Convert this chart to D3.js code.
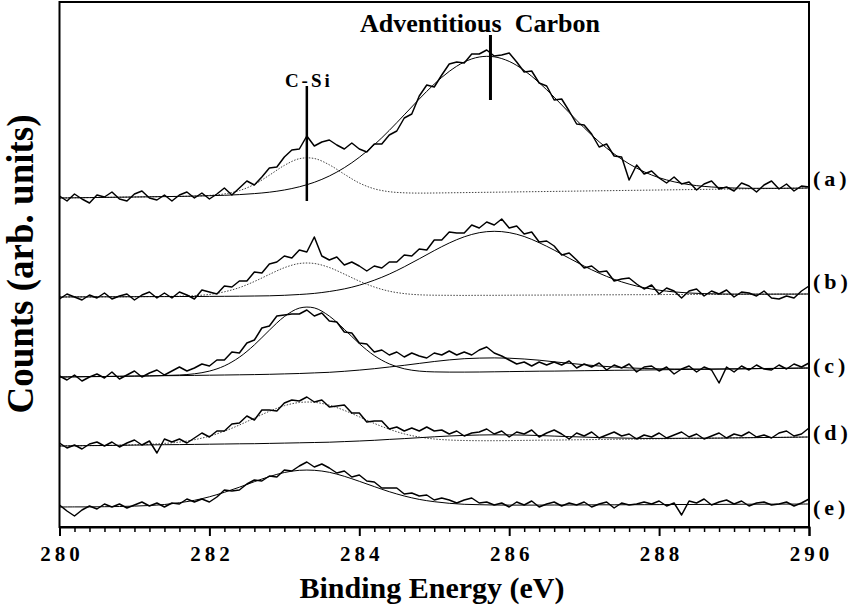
<!DOCTYPE html>
<html><head><meta charset="utf-8">
<script src="https://cdn.jsdelivr.net/npm/d3@7"></script>
<style>body{margin:0;background:#fff} svg{display:block}</style>
</head><body><svg id="chart" width="856" height="607"></svg>
<script>
// ---- data (counts in arbitrary units, each spectrum stacked by an offset) ----
const energyStart = 280, dataStep = 0.1, fitStep = 0.2;
const spectrumLabels = ["(a)", "(b)", "(c)", "(d)", "(e)"];
const stackOffsets = [329, 230, 150, 81, 20];
const xTickValues = [280, 282, 284, 286, 288, 290];

const spectrumA = [2,-3,4,-1,-5,3,1,6,-1,-3, 4,7,0,-2,3,-3,3,6,0,5, -1,4,10,3,10,17,13,21,30,31,
  41,48,49,62,52,56,58,53,49,55, 49,46,54,54,63,67,80,84,102,113, 111,123,134,136,135,144,144,148,142,143,
  145,136,126,127,115,112,98,99,87,74, 73,64,51,54,42,41,18,33,24,27, 20,15,21,14,16,8,14,17,9,11,
  7,15,12,6,13,17,9,14,7,12, 11];
const spectrumB = [-2,3,0,-3,2,-1,4,-2,1,3, -3,2,5,-1,4,-1,5,2,-2,7, 5,3,11,10,16,16,25,24,33,35,
  41,39,47,45,60,41,37,40,32,35, 31,26,31,29,35,35,42,41,48,47, 57,57,65,64,64,72,69,75,72,78,
  69,71,63,65,55,56,51,42,44,37, 29,31,25,26,16,18,19,13,8,12, 3,9,6,-1,6,8,1,6,3,7,
  0,5,4,1,6,-1,-2,1,-1,6, 11];
const spectrumC = [1,-3,2,-4,0,3,-1,5,-2,2, 6,0,4,7,2,6,10,6,9,13, 11,17,17,25,24,34,37,49,51,61,
  62,63,63,67,61,64,56,55,45,44, 34,33,25,27,22,25,20,24,21,19, 24,22,26,22,25,22,27,30,24,21,
  17,13,15,11,15,12,15,12,16,9, 13,10,14,7,12,9,13,5,10,11, 6,10,3,8,11,5,10,7,-6,10,
  5,11,7,12,8,7,12,8,13,10, 14];
const spectrumD = [3,-2,1,-3,2,4,0,4,-1,3, 6,1,5,-7,7,4,7,3,8,13, 9,15,15,22,23,30,26,36,36,35,
  43,46,45,49,44,46,39,40,41,33, 33,24,25,25,17,19,15,18,15,19, 15,16,12,15,10,13,14,17,12,15,
  9,14,12,16,9,13,16,12,7,13, 10,14,8,11,14,10,12,7,11,9, 13,8,11,14,9,12,7,10,13,8,
  12,10,14,9,11,8,13,15,10,12, 18];
const spectrumE = [2,-4,-9,-3,1,-2,3,0,3,-1, 2,5,1,4,0,4,3,8,5,8, 5,10,17,16,17,23,27,26,31,30,
  37,36,41,45,40,43,39,34,36,30, 32,26,25,19,19,19,13,14,11,12, 7,9,7,4,7,9,4,5,2,4,
  0,5,2,6,0,3,5,1,4,2, 5,0,3,5,-1,4,2,3,5,3, 6,1,4,-8,6,4,8,2,5,7,
  3,6,1,4,5,2,3,5,1,4, 8];

// fitted components (background included), sampled every 0.2 eV
const fitA_CSi = [0,.2,.4,.6,.8,1.0,1.2,1.4,1.6,1.9, 2.6,4.1,7.4,13.6,22.8,32.6,39.3,39.5,33.2,23.8,
  15.0,9.2,6.3,5.2,4.9,5.0,5.2,5.4,5.6,5.8, 6.0,6.2,6.4,6.6,6.8,7.0,7.2,7.4,7.6,7.8, 8.0,8.2,8.4,8.6,8.8,9.0,9.2,9.4,9.6,9.8, 10.0];
const fitA_C = [0,.2,.4,.6,.8,1.0,1.2,1.4,1.6,1.9, 2.3,2.7,3.4,4.4,5.8,8.0,11.2,15.7,22.0,30.3,
  40.7,53.2,67.6,83.2,99.0,113.9,126.6,136.0,141.0,141.2, 136.6,127.6,115.3,100.8,85.4,70.2,56.2,44.1,34.1,26.2,
  20.3,16.2,13.4,11.6,10.6,10.0,9.7,9.7,9.7,9.8, 10.0];
const fitB_CSi = [0,.1,.1,.2,.2,.3,.4,.5,.8,1.3, 2.6,5.2,9.4,15.5,22.6,29.3,33.5,33.5,29.5,22.9,
  15.9,10.0,5.8,3.4,2.2,1.8,1.7,1.6,1.7,1.7, 1.8,1.9,1.9,2.0,2.0,2.1,2.2,2.2,2.3,2.3, 2.4,2.5,2.5,2.6,2.6,2.7,2.8,2.8,2.9,2.9, 3.0];
const fitB_C = [0,.1,.1,.2,.2,.3,.4,.4,.5,.5, .6,.7,.8,1.0,1.2,1.7,2.5,3.6,5.5,8.1,
  11.8,16.8,22.9,30.2,38.2,46.4,54.0,60.2,64.3,65.7, 64.4,60.5,54.3,46.9,38.8,30.9,23.8,17.7,12.9,9.3,
  6.8,5.1,4.0,3.4,3.0,2.9,2.9,2.8,2.9,2.9, 3.0];
const fitC_CSi = [0,.2,.4,.5,.7,.9,1.1,1.5,2.0,3.2, 5.9,11.1,19.8,32.1,46.8,60.4,68.9,69.1,60.9,47.7,
  33.4,21.4,13.1,8.2,5.9,5.1,4.9,4.9,5.0,5.2, 5.4,5.6,5.8,5.9,6.1,6.3,6.5,6.7,6.8,7.0, 7.2,7.4,7.6,7.7,7.9,8.1,8.3,8.5,8.6,8.8, 9.0];
const fitC_C = [0,.2,.4,.5,.7,.9,1.1,1.3,1.4,1.6, 1.8,2.0,2.2,2.4,2.7,3.1,3.5,4.1,4.7,5.7,
  6.9,8.3,10.0,11.7,13.6,15.5,17.1,18.3,18.9,19.1, 18.8,18.0,16.8,15.2,13.7,12.3,11.0,10.0,9.1,8.5,
  8.2,8.0,8.0,7.9,8.0,8.1,8.3,8.5,8.6,8.8, 9.0];
const fitD_CSi = [0,.2,.4,.5,.8,1.2,1.7,2.6,3.9,6.3, 9.8,14.8,21.0,27.9,34.7,40.3,43.5,43.7,40.8,35.6,
  29.2,22.6,16.8,12.1,9.0,7.0,6.0,5.5,5.3,5.3, 5.4,5.6,5.8,5.9,6.1,6.3,6.5,6.7,6.8,7.0, 7.2,7.4,7.6,7.7,7.9,8.1,8.3,8.5,8.6,8.8, 9.0];
const fitD_C = [0,.2,.4,.5,.7,.9,1.1,1.3,1.4,1.6, 1.8,2.0,2.2,2.3,2.6,2.9,3.2,3.5,3.8,4.4,
  5.0,5.7,6.6,7.4,8.3,9.2,10.0,10.6,11.0,11.2, 11.1,10.9,10.5,9.9,9.4,8.9,8.4,8.1,7.8,7.6,
  7.6,7.7,7.8,7.8,7.9,8.1,8.3,8.5,8.6,8.8, 9.0];
const fitE_CSi = [0,.1,.1,.3,.5,.9,1.5,2.5,4.3,6.7, 10.2,14.7,19.8,25.3,30.4,34.5,36.7,36.7,34.7,30.7,
  25.7,20.4,15.3,11.0,7.6,5.3,3.7,2.7,2.3,2.0, 1.9,1.9,1.9,2.0,2.0,2.1,2.2,2.2,2.3,2.3, 2.4,2.5,2.5,2.6,2.6,2.7,2.8,2.8,2.9,2.9, 3.0];

const annotations = [
  {text: "C-Si", energy: 283.3, lineTop: 441, lineBottom: 326},
  {text: "Adventitious  Carbon", energy: 285.75, lineTop: 492, lineBottom: 427}
];

// ---- layout (not data) ----
const labelLift = [20, 16, 12, 14, 0];

// ---- build ----
const spectra = [
  {label: spectrumLabels[0], offset: stackOffsets[0], data: spectrumA, fits: [{v: fitA_CSi, dotted: true}, {v: fitA_C, dotted: false}]},
  {label: spectrumLabels[1], offset: stackOffsets[1], data: spectrumB, fits: [{v: fitB_CSi, dotted: true}, {v: fitB_C, dotted: false}]},
  {label: spectrumLabels[2], offset: stackOffsets[2], data: spectrumC, fits: [{v: fitC_CSi, dotted: false}, {v: fitC_C, dotted: false}]},
  {label: spectrumLabels[3], offset: stackOffsets[3], data: spectrumD, fits: [{v: fitD_CSi, dotted: true}, {v: fitD_C, dotted: false}]},
  {label: spectrumLabels[4], offset: stackOffsets[4], data: spectrumE, fits: [{v: fitE_CSi, dotted: false}]}
];

const svg = d3.select("#chart");
const x = d3.scaleLinear().domain([280, 290]).range([59.5, 809]);
const y = d3.scaleLinear().domain([0, 525]).range([527, 2]);
const serif = "'Liberation Serif','Times New Roman',serif";

const plot = svg.append("g");

spectra.forEach((s, k) => {
  s.fits.forEach(f => {
    const line = d3.line()
      .x((d, i) => x(energyStart + i * fitStep))
      .y(d => y(s.offset + d))
      .curve(d3.curveCatmullRom);
    plot.append("path").attr("d", line(f.v))
      .attr("fill", "none")
      .attr("stroke", f.dotted ? "#444" : "#000")
      .attr("stroke-width", 1)
      .attr("stroke-dasharray", f.dotted ? "1.5,1.5" : null);
  });
  const dline = d3.line()
    .x((d, i) => x(energyStart + i * dataStep))
    .y(d => y(s.offset + d));
  plot.append("path").attr("d", dline(s.data))
    .attr("fill", "none").attr("stroke", "#000")
    .attr("stroke-width", 1.5).attr("stroke-linejoin", "round");
  svg.append("text")
    .attr("x", 813).attr("y", y(s.offset + labelLift[k]))
    .attr("dy", "0.35em")
    .attr("font-family", serif).attr("font-weight", "bold")
    .attr("font-size", 22).attr("letter-spacing", 4)
    .text(s.label);
});

// annotations
annotations.forEach((a, k) => {
  plot.append("line")
    .attr("x1", x(a.energy)).attr("x2", x(a.energy))
    .attr("y1", y(a.lineTop)).attr("y2", y(a.lineBottom))
    .attr("stroke", "#000").attr("stroke-width", k === 0 ? 2.5 : 3);
});
svg.append("text").attr("x", x(annotations[0].energy) + 2).attr("y", y(annotations[0].lineTop) + 1)
  .attr("text-anchor", "middle").attr("font-family", serif).attr("font-weight", "bold")
  .attr("font-size", 19).attr("letter-spacing", 3).text(annotations[0].text);
svg.append("text").attr("x", 480).attr("y", 32)
  .attr("text-anchor", "middle").attr("font-family", serif).attr("font-weight", "bold")
  .attr("font-size", 26).attr("xml:space", "preserve").style("white-space", "pre")
  .text(annotations[1].text);

// frame
svg.append("rect")
  .attr("x", x(280)).attr("y", y(525))
  .attr("width", x(290) - x(280)).attr("height", y(0) - y(525))
  .attr("fill", "none").attr("stroke", "#000").attr("stroke-width", 2);

// axes
const minorTicks = d3.range(0, 51).map(i => 280 + i * 0.2).filter(v => Math.abs(v / 2 - Math.round(v / 2)) > 1e-6);
const minorAxis = d3.axisBottom(x).tickValues(minorTicks).tickSize(5).tickFormat("");
const gMinor = svg.append("g").attr("transform", `translate(0,${y(0)})`).call(minorAxis);
gMinor.select(".domain").remove();
gMinor.selectAll("line").attr("stroke-width", 1.5);

const majorAxis = d3.axisBottom(x).tickValues(xTickValues).tickSize(9).tickPadding(10).tickFormat(d3.format("d"));
const gMajor = svg.append("g").attr("transform", `translate(0,${y(0)})`).call(majorAxis);
gMajor.select(".domain").attr("stroke-width", 2);
gMajor.selectAll("line").attr("stroke-width", 2);
gMajor.selectAll("text")
  .attr("font-family", serif).attr("font-weight", "bold")
  .attr("font-size", 21).attr("letter-spacing", 4).attr("dx", 2).attr("fill", "#000");

// axis titles
svg.append("text").attr("x", 432).attr("y", 598)
  .attr("text-anchor", "middle").attr("font-family", serif).attr("font-weight", "bold")
  .attr("font-size", 30).text("Binding Energy (eV)");
svg.append("text").attr("transform", "translate(33,264) rotate(-90)")
  .attr("text-anchor", "middle").attr("font-family", serif).attr("font-weight", "bold")
  .attr("font-size", 37).text("Counts (arb. units)");
</script></body></html>
